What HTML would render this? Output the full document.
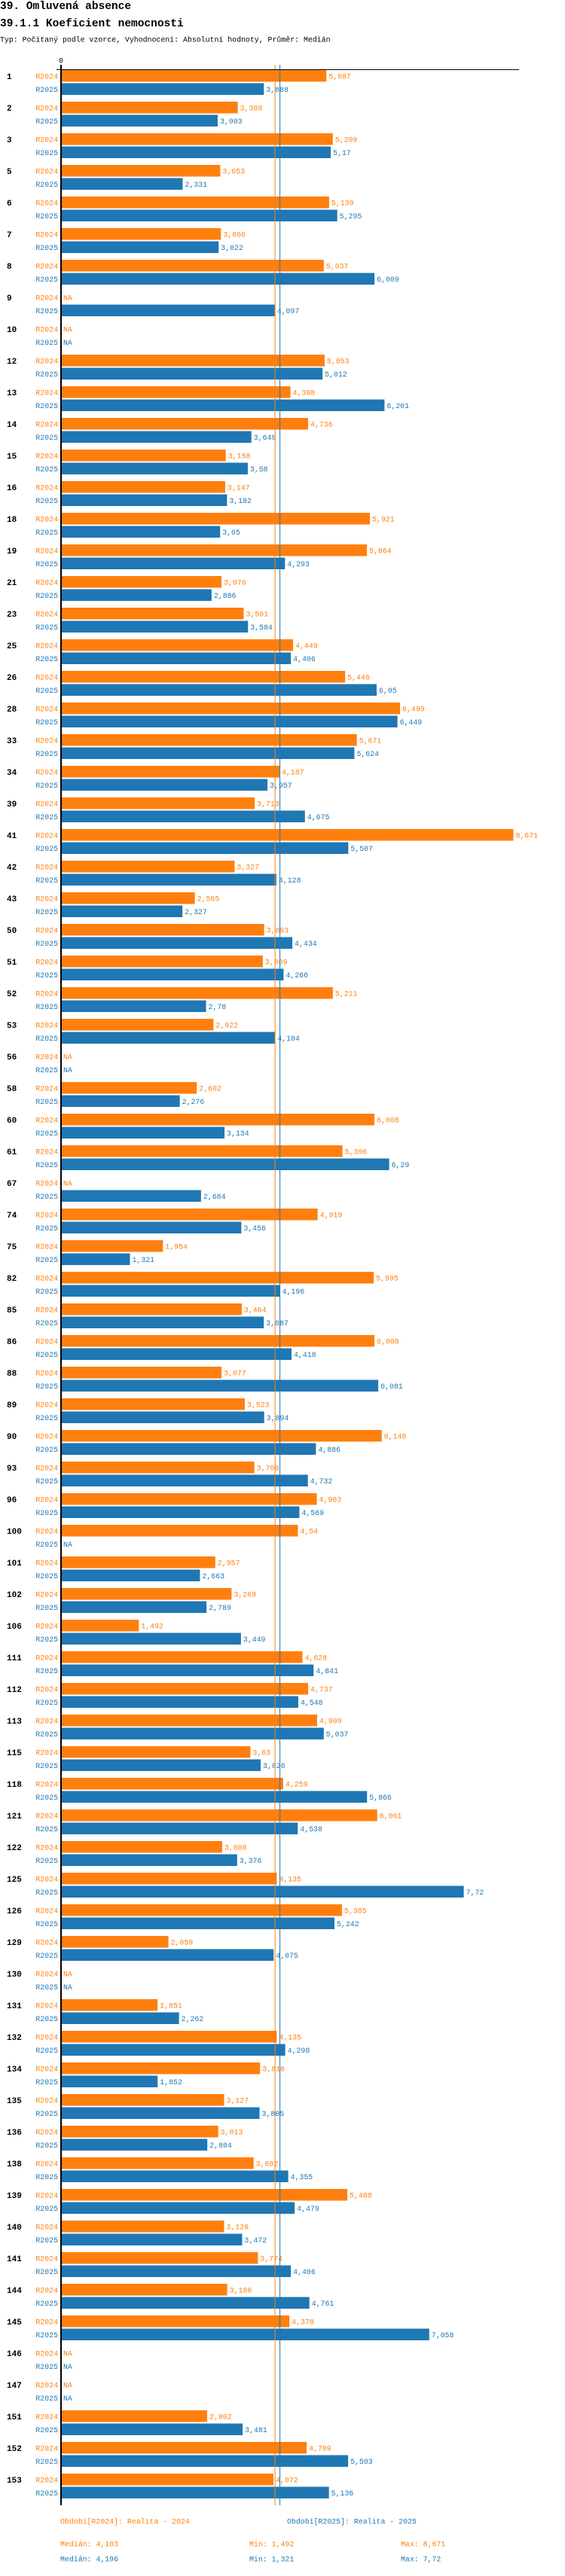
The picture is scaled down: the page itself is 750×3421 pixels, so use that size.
<!DOCTYPE html>
<html><head><meta charset="utf-8">
<style>
html,body{margin:0;padding:0;background:#fff;}
body{width:750px;height:3416px;overflow:hidden;font-family:"Liberation Mono",monospace;}
svg text{font-family:"Liberation Mono",monospace;}
</style></head>
<body>
<svg id="chart" width="750" height="3416" viewBox="0 0 750 3416" xmlns="http://www.w3.org/2000/svg">
<text x="0" y="12" font-size="14.5" font-weight="bold" fill="#000">39. Omluvená absence</text>
<text x="0" y="35" font-size="14.5" font-weight="bold" fill="#000">39.1.1 Koeficient nemocnosti</text>
<text x="0" y="55.5" font-size="9.9" fill="#000">Typ: Počítaný podle vzorce, Vyhodnocení: Absolutní hodnoty, Průměr: Medián</text>
<g id="plot"></g>
<g font-size="9.9">
<text x="80" y="3351.5" fill="#ff7f0e">Období[R2024]: Realita - 2024</text>
<text x="381" y="3351.5" fill="#1f77b4">Období[R2025]: Realita - 2025</text>
<text x="80" y="3381.5" fill="#ff7f0e">Medián: 4,103</text>
<text x="331" y="3381.5" fill="#ff7f0e">Min: 1,492</text>
<text x="532" y="3381.5" fill="#ff7f0e">Max: 8,671</text>
<text x="80" y="3401.5" fill="#1f77b4">Medián: 4,196</text>
<text x="331" y="3401.5" fill="#1f77b4">Min: 1,321</text>
<text x="532" y="3401.5" fill="#1f77b4">Max: 7,72</text>
</g>
</svg>
<script>
const categories = ["1","2","3","5","6","7","8","9","10","12","13","14","15","16","18","19","21","23","25","26","28","33","34","39","41","42","43","50","51","52","53","56","58","60","61","67","74","75","82","85","86","88","89","90","93","96","100","101","102","106","111","112","113","115","118","121","122","125","126","129","130","131","132","134","135","136","138","139","140","141","144","145","146","147","151","152","153"];
const seriesNames = ["R2024","R2025"];
const values2024 = [5.087,3.388,5.209,3.053,5.139,3.066,5.037,null,null,5.053,4.398,4.736,3.158,3.147,5.921,5.864,3.076,3.501,4.449,5.446,6.499,5.671,4.187,3.713,8.671,3.327,2.565,3.893,3.869,5.211,2.922,null,2.602,6.008,5.396,null,4.919,1.954,5.995,3.464,6.008,3.077,3.523,6.148,3.706,4.903,4.54,2.957,3.269,1.492,4.628,4.737,4.909,3.63,4.259,6.061,3.088,4.135,5.385,2.059,null,1.851,4.135,3.816,3.127,3.013,3.692,5.488,3.126,3.774,3.186,4.378,null,null,2.802,4.709,4.072];
const values2025 = [3.888,3.003,5.17,2.331,5.295,3.022,6.009,4.097,null,5.012,6.201,3.649,3.58,3.182,3.05,4.293,2.886,3.584,4.406,6.05,6.449,5.624,3.957,4.675,5.507,4.128,2.327,4.434,4.266,2.78,4.104,null,2.276,3.134,6.29,2.684,3.456,1.321,4.196,3.887,4.418,6.081,3.894,4.886,4.732,4.569,null,2.663,2.789,3.449,4.841,4.548,5.037,3.826,5.866,4.538,3.376,7.72,5.242,4.075,null,2.262,4.298,1.852,3.805,2.804,4.355,4.479,3.472,4.406,4.761,7.058,null,null,3.481,5.503,5.136];
const medians = [4.103, 4.196];
const xTickLabels = ["0"];

const colors = ["#ff7f0e","#1f77b4"];
const NS = "http://www.w3.org/2000/svg";
const plot = document.getElementById("plot");
const X0 = 81, XS = 69.25;
function xPos(v){ return X0 + v*XS; }
const Y0 = 93, PITCH = 42, BH = 15.5, OFF = 17.5;
function yPos(i, s){ return Y0 + i*PITCH + s*OFF; }
function fmt(v){ return String(v).replace('.', ','); }
function mk(tag, attrs){ const e=document.createElementNS(NS,tag); for(const k in attrs) e.setAttribute(k, attrs[k]); return e; }

const series = [values2024, values2025];
const yEnd = yPos(categories.length-1,1)+BH+9;

categories.forEach((c,i)=>{
  const g = mk('g',{});
  
  
  const gl = mk('text',{x:9, y:yPos(i,0)+BH/2+4, 'font-size':11, 'font-weight':'bold', fill:'#000'});
  
  
  gl.textContent = c;
  g.appendChild(gl);
  series.forEach((arr,s)=>{
    const y = yPos(i,s);
    const sl = mk('text',{x:77, y:y+BH/2+3.5, 'font-size':9.9, fill:colors[s], 'text-anchor':'end'});
    
    
    sl.textContent = seriesNames[s];
    g.appendChild(sl);
    const v = arr[i];
    if (v !== null) {
      const r = mk('rect',{x:X0, y:y, width:xPos(v)-X0, height:BH, fill:colors[s]});
      
      
      g.appendChild(r);
    }
    const vl = mk('text',{x:(v===null?X0:xPos(v))+3, y:y+BH/2+3.5, 'font-size':9.9, fill:colors[s]});
    
    
    vl.textContent = v===null ? 'NA' : fmt(v);
    g.appendChild(vl);
  });
  plot.appendChild(g);
});

medians.forEach((m,s)=>{
  const l = mk('line',{x1:xPos(m), x2:xPos(m), y1:86, y2:yEnd, stroke:colors[s], 'stroke-width':1});
  
  
  plot.appendChild(l);
});

const topLine = mk('line',{x1:75, x2:689, y1:92.5, y2:92.5, stroke:'#000', 'stroke-width':1});


plot.appendChild(topLine);
const axLine = mk('line',{x1:X0, x2:X0, y1:86, y2:yEnd, stroke:'#000', 'stroke-width':2});


plot.appendChild(axLine);
xTickLabels.forEach((t)=>{
  const tl = mk('text',{x:xPos(Number(t)), y:83.5, 'font-size':9.9, fill:'#000', 'text-anchor':'middle'});
  
  
  tl.textContent = t;
  plot.appendChild(tl);
});
</script>
</body></html>
